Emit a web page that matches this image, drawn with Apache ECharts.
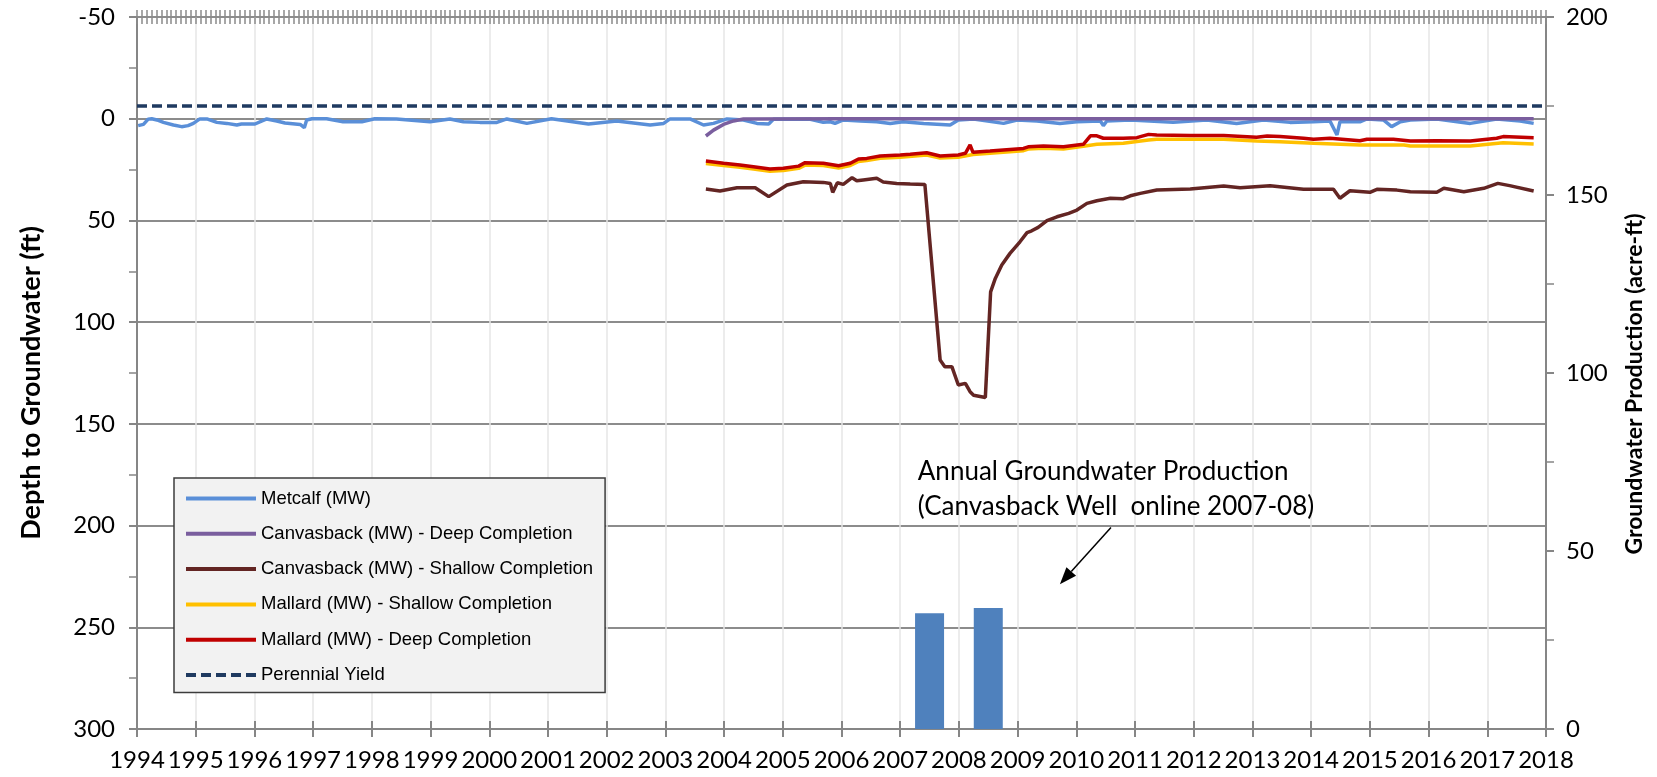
<!DOCTYPE html>
<html><head><meta charset="utf-8">
<script src="https://cdn.jsdelivr.net/npm/echarts@6/dist/echarts.min.js"></script>
<style>html,body{margin:0;padding:0;background:#fff}#c{width:1657px;height:777px}</style>
</head><body><div id="c"></div>
<script>
// ---- data: [decimal year, depth to groundwater (ft)] ----
const metcalf = [[1994.02,3.4],[1994.11,2.8],[1994.19,0.2],[1994.25,0],[1994.34,0.6],[1994.45,1.8],[1994.62,3.1],[1994.76,3.9],[1994.87,3.4],[1994.96,2.3],[1995.07,0.1],[1995.19,0.1],[1995.36,1.8],[1995.53,2.3],[1995.70,3.1],[1995.78,2.6],[1996.01,2.6],[1996.21,0.1],[1996.38,1.1],[1996.52,2.1],[1996.78,2.8],[1996.85,4.4],[1996.89,0.6],[1996.98,0],[1997.23,0],[1997.51,1.5],[1997.83,1.5],[1998.05,0],[1998.42,0.1],[1998.99,1.5],[1999.33,0.1],[1999.56,1.5],[1999.84,1.8],[2000.13,1.8],[2000.30,0.1],[2000.64,2.3],[2001.06,0],[2001.69,2.6],[2002.17,1.1],[2002.74,3.1],[2002.97,2.3],[2003.08,0.1],[2003.42,0.1],[2003.65,3.1],[2003.82,2.3],[2004.05,0.1],[2004.33,0.6],[2004.56,2.3],[2004.76,2.6],[2004.84,0.3],[2005.47,0.3],[2005.69,1.8],[2005.81,1.5],[2005.89,2.3],[2006.03,0.6],[2006.32,1.1],[2006.60,1.5],[2006.83,2.3],[2007.05,1.5],[2007.40,2.3],[2007.85,3.1],[2007.99,0.6],[2008.25,0.1],[2008.76,2.3],[2008.99,0.6],[2009.33,1.1],[2009.72,2.3],[2010.01,1.5],[2010.41,1.1],[2010.46,3.4],[2010.52,1.1],[2010.92,0.6],[2011.65,1.8],[2012.22,0.6],[2012.73,2.3],[2013.19,0.6],[2013.64,1.8],[2014.04,1.5],[2014.32,1.1],[2014.44,8.0],[2014.49,1.5],[2014.83,1.5],[2014.95,0.1],[2015.23,0.6],[2015.37,3.9],[2015.52,1.5],[2015.69,0.6],[2016.14,0.1],[2016.71,2.3],[2017.16,0.1],[2017.56,1.1],[2017.79,2.3]];
const canvasbackDeep = [[2003.69,8.5],[2003.82,5.6],[2003.99,2.8],[2004.16,1.1],[2004.33,0.1],[2006.0,0],[2010.0,0],[2014.0,0],[2017.79,0]];
const canvasbackShallow = [[2003.69,34.6],[2003.93,35.5],[2004.22,33.9],[2004.53,33.9],[2004.76,38.3],[2005.07,32.6],[2005.35,31.0],[2005.69,31.3],[2005.81,31.8],[2005.85,36.2],[2005.93,31.5],[2006.03,32.3],[2006.18,29.0],[2006.26,30.5],[2006.37,30.1],[2006.60,29.3],[2006.71,31.1],[2006.94,31.8],[2007.17,32.1],[2007.42,32.3],[2007.68,118.6],[2007.76,121.9],[2007.88,121.9],[2007.99,130.9],[2008.11,130.1],[2008.19,134.2],[2008.25,135.9],[2008.45,137.0],[2008.54,85.1],[2008.62,78.5],[2008.73,71.9],[2008.87,66.2],[2009.04,60.5],[2009.16,56.0],[2009.24,55.1],[2009.35,53.4],[2009.50,50.1],[2009.67,48.2],[2009.87,46.5],[2010.01,44.9],[2010.18,41.6],[2010.35,40.3],[2010.58,39.1],[2010.80,39.3],[2010.92,37.9],[2011.09,36.7],[2011.37,35.0],[2011.94,34.5],[2012.51,33.1],[2012.79,33.9],[2013.30,32.9],[2013.87,34.7],[2014.38,34.7],[2014.49,39.1],[2014.66,35.4],[2015.00,36.2],[2015.12,34.7],[2015.46,35.1],[2015.69,35.9],[2016.14,36.2],[2016.26,34.2],[2016.60,35.9],[2016.94,34.2],[2017.18,31.8],[2017.38,32.9],[2017.79,35.5]];
const mallardShallow = [[2003.69,22.0],[2003.99,23.0],[2004.27,23.9],[2004.50,24.7],[2004.78,25.8],[2005.01,25.5],[2005.27,24.4],[2005.38,22.8],[2005.69,23.0],[2005.95,24.2],[2006.15,23.0],[2006.29,21.0],[2006.43,20.6],[2006.66,19.4],[2007.00,18.9],[2007.45,17.8],[2007.68,19.3],[2007.99,18.9],[2008.24,17.6],[2008.53,17.0],[2008.87,16.2],[2009.10,15.7],[2009.18,14.9],[2009.44,14.5],[2009.78,14.9],[2010.12,13.5],[2010.35,12.6],[2010.80,12.1],[2011.23,10.5],[2011.37,10.1],[2012.51,10.1],[2013.07,11.0],[2013.47,11.3],[2014.04,12.1],[2014.83,12.9],[2015.58,12.9],[2015.69,13.4],[2016.71,13.4],[2017.27,11.8],[2017.79,12.4]];
const mallardDeep = [[2003.69,20.8],[2003.99,21.9],[2004.27,22.8],[2004.50,23.6],[2004.78,24.7],[2005.01,24.4],[2005.27,23.3],[2005.38,21.6],[2005.69,21.9],[2005.95,23.1],[2006.15,21.9],[2006.29,19.8],[2006.43,19.5],[2006.66,18.3],[2007.00,17.8],[2007.17,17.5],[2007.45,16.7],[2007.68,18.3],[2007.99,17.8],[2008.11,17.0],[2008.19,12.9],[2008.24,16.5],[2008.53,15.9],[2008.87,15.1],[2009.10,14.6],[2009.18,13.8],[2009.44,13.4],[2009.78,13.8],[2010.12,12.6],[2010.24,8.4],[2010.35,8.4],[2010.46,9.6],[2010.80,9.6],[2011.03,9.3],[2011.23,7.7],[2011.37,8.0],[2011.94,8.2],[2012.51,8.2],[2013.07,9.1],[2013.25,8.5],[2013.47,8.8],[2013.87,9.6],[2014.04,10.1],[2014.32,9.6],[2014.83,10.8],[2014.95,10.1],[2015.40,10.1],[2015.69,11.0],[2016.14,10.8],[2016.71,11.0],[2017.16,9.6],[2017.27,8.8],[2017.79,9.3]];
// perennial yield on the production axis (acre-ft)
const perennialYield = [[1994,175],[2018,175]];
// annual groundwater production (acre-ft)
const productionYears = [2007.5, 2008.5];
const productionValues = [32.5, 34];

const seriesNames = ['Metcalf (MW)','Canvasback (MW) - Deep Completion','Canvasback (MW) - Shallow Completion','Mallard (MW) - Shallow Completion','Mallard (MW) - Deep Completion','Perennial Yield'];
const annotationLines = ['Annual Groundwater Production','(Canvasback Well  online 2007-08)'];

const axisGray = '#868686';
const tickFont = {fontFamily:'Lato', fontSize:24, color:'#000'};
const LW = 3.5;

const chart = echarts.init(document.getElementById('c'), null, {renderer:'canvas'});
const option = {
  animation:false,
  backgroundColor:'#fff',
  grid:{left:137,right:111,top:17,bottom:48,containLabel:false},
  legend:{
    data:seriesNames, orient:'vertical', left:174, top:478,
    itemWidth:70, itemHeight:14, itemGap:16.3,
    padding:[11,12,8,10], backgroundColor:'#f2f2f2', borderColor:'#3c3c3c', borderWidth:1.5,
    itemStyle:{opacity:0, borderWidth:0},
    lineStyle:{width:4},
    textStyle:{fontFamily:'Liberation Sans', fontSize:18.5, color:'#000'}
  },
  xAxis:[
    {type:'value', min:1994, max:2018, interval:1, position:'bottom',
     axisLine:{show:true,onZero:false,lineStyle:{color:axisGray,width:2}},
     axisTick:{show:true,length:8,lineStyle:{color:axisGray,width:2}},
     axisLabel:Object.assign({margin:19, formatter:v=>String(Math.round(v))}, tickFont),
     splitLine:{show:true,lineStyle:{color:'#e6e6e6',width:1.5}}},
    {type:'value', min:0, max:288, interval:1, position:'top', offset:-7,
     axisLine:{show:false,onZero:false}, axisLabel:{show:false}, splitLine:{show:false},
     axisTick:{show:true,length:14,lineStyle:{color:'#8a8a8a',width:1.5}}},
    {type:'value', min:1994, max:2018, interval:1, position:'bottom',
     axisLine:{show:false,onZero:false}, axisLabel:{show:false}, splitLine:{show:false},
     axisTick:{show:true,inside:true,length:8,lineStyle:{color:axisGray,width:2}}}
  ],
  yAxis:[
    {type:'value', inverse:true, min:-50, max:300, interval:50, position:'left',
     name:'Depth to Groundwater (ft)', nameLocation:'middle', nameRotate:90, nameGap:92,
     nameTextStyle:{fontFamily:'Lato', fontWeight:'bold', fontSize:27, color:'#000', padding:[0,20,0,0]},
     axisLine:{show:true,onZero:false,lineStyle:{color:axisGray,width:2}},
     axisTick:{show:true,length:8,lineStyle:{color:axisGray,width:2}},
     minorTick:{show:true,splitNumber:2,length:8,lineStyle:{color:axisGray,width:1.5}},
     axisLabel:Object.assign({margin:22}, tickFont),
     splitLine:{show:true,lineStyle:{color:'#8c8c8c',width:2}}},
    {type:'value', min:0, max:200, interval:50, position:'right',
     name:'Groundwater Production (acre-ft)', nameLocation:'middle', nameRotate:90, nameGap:77,
     nameTextStyle:{fontFamily:'Lato', fontWeight:'bold', fontSize:23, color:'#000', padding:[0,22,0,0]},
     axisLine:{show:true,onZero:false,lineStyle:{color:axisGray,width:2}},
     axisTick:{show:true,length:8,lineStyle:{color:axisGray,width:2}},
     minorTick:{show:true,splitNumber:2,length:8,lineStyle:{color:axisGray,width:1.5}},
     axisLabel:Object.assign({margin:20}, tickFont),
     splitLine:{show:false}}
  ],
  series:[
    {name:'Annual Groundwater Production', type:'bar', xAxisIndex:0, yAxisIndex:1, barWidth:29,
     itemStyle:{color:'#4F81BD'}, data:productionYears.map((y,i)=>[y,productionValues[i]])},
    {name:seriesNames[0], type:'line', symbol:'none', data:metcalf, lineStyle:{color:'#5A8FD8',width:LW}, itemStyle:{color:'#5A8FD8'}},
    {name:seriesNames[1], type:'line', symbol:'none', data:canvasbackDeep, lineStyle:{color:'#7A5E9E',width:LW}, itemStyle:{color:'#7A5E9E'}},
    {name:seriesNames[2], type:'line', symbol:'none', data:canvasbackShallow, lineStyle:{color:'#632523',width:LW}, itemStyle:{color:'#632523'}},
    {name:seriesNames[3], type:'line', symbol:'none', data:mallardShallow, lineStyle:{color:'#FFC000',width:LW}, itemStyle:{color:'#FFC000'}},
    {name:seriesNames[4], type:'line', symbol:'none', data:mallardDeep, lineStyle:{color:'#C00000',width:LW}, itemStyle:{color:'#C00000'}},
    {name:seriesNames[5], type:'line', symbol:'none', yAxisIndex:1, data:perennialYield, lineStyle:{color:'#1F3A60',width:LW,type:[10,5]}, itemStyle:{color:'#1F3A60'}}
  ]
};
chart.setOption(option);

// annotation placed in data coordinates (year, depth ft)
const toPx = p => chart.convertToPixel({xAxisIndex:0, yAxisIndex:0}, p);
const textAnchor = toPx([2007.30, 173.5]);
const textAnchor2 = toPx([2007.30, 190.9]);
const tail = toPx([2010.59, 200.9]);
const tip = toPx([2009.72, 228.8]);
const dx = tip[0]-tail[0], dy = tip[1]-tail[1], len = Math.hypot(dx,dy);
const ux = dx/len, uy = dy/len, nx = -uy, ny = ux, hl = 17, hw = 6.5;
const bx = tip[0]-hl*ux, by = tip[1]-hl*uy;
chart.setOption({graphic:[
  {type:'text', x:textAnchor[0], y:textAnchor[1], style:{text:annotationLines[0], font:'26px Lato', fill:'#000', verticalAlign:'middle'}},
  {type:'text', x:textAnchor2[0], y:textAnchor2[1], style:{text:annotationLines[1], font:'26px Lato', fill:'#000', verticalAlign:'middle'}},
  {type:'line', shape:{x1:tail[0], y1:tail[1], x2:bx, y2:by}, style:{stroke:'#000', lineWidth:1.5}},
  {type:'polygon', shape:{points:[[tip[0],tip[1]],[bx+hw*nx,by+hw*ny],[bx-hw*nx,by-hw*ny]]}, style:{fill:'#000'}}
]});
</script>
</body></html>
